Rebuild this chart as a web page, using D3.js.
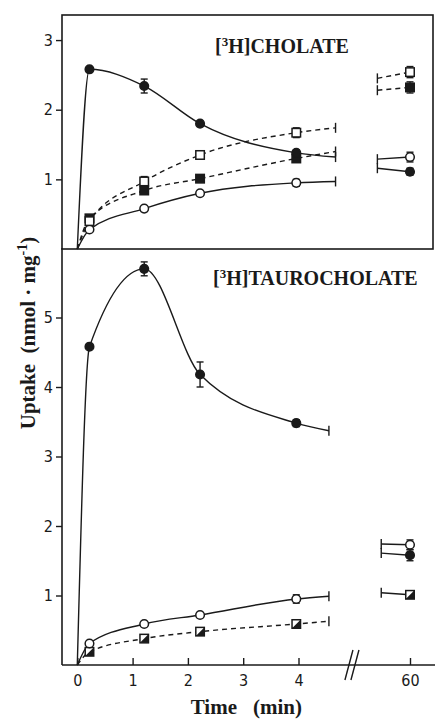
<!DOCTYPE html>
<html><head><meta charset="utf-8">
<script src="https://cdn.jsdelivr.net/npm/d3@7"></script>
<style>html,body{margin:0;padding:0;background:#fff}svg{display:block}</style>
</head><body><svg id="c" width="435" height="719"></svg>
<script>
// ---------- data ----------
const times = [0.22, 1.21, 2.22, 3.96];          // min, sampled points
const endTimeTop = 4.67, endTimeBottom = 4.55;  // where fitted lines stop before the break
const lateTime = 60;                            // final sample (min)
const stubTimeTop = 59.41, stubTimeBottom = 59.48;
const xTickValues = [0, 1, 2, 3, 4];
const xTickLate = [60];
const yTicksTop = [1, 2, 3];
const yTicksBottom = [1, 2, 3, 4, 5];

// [3H]cholate panel
const cholFilledCircle    = [2.58, 2.34, 1.80, 1.38];
const cholFilledCircleErr = [0, 0.10, 0, 0.04];
const cholFilledCircleEnd = 1.32, cholFilledCircleStub = 1.16, cholFilledCircle60 = 1.11, cholFilledCircle60Err = 0.05;

const cholOpenCircle    = [0.28, 0.58, 0.80, 0.95];
const cholOpenCircleErr = [0, 0, 0, 0.05];
const cholOpenCircleEnd = 0.97, cholOpenCircleStub = 1.29, cholOpenCircle60 = 1.32, cholOpenCircle60Err = 0.07;

const cholOpenSquare    = [0.40, 0.97, 1.35, 1.67];
const cholOpenSquareErr = [0, 0.07, 0.05, 0.07];
const cholOpenSquareEnd = 1.74, cholOpenSquareStub = 2.45, cholOpenSquare60 = 2.54, cholOpenSquare60Err = 0.08;

const cholFilledSquare    = [0.44, 0.84, 1.01, 1.30];
const cholFilledSquareErr = [0, 0, 0, 0.04];
const cholFilledSquareEnd = 1.40, cholFilledSquareStub = 2.28, cholFilledSquare60 = 2.32, cholFilledSquare60Err = 0.08;

// [3H]taurocholate panel
const tauroFilledCircle    = [4.58, 5.70, 4.18, 3.48];
const tauroFilledCircleErr = [0, 0.10, 0.18, 0.05];
const tauroFilledCircleEnd = 3.37, tauroFilledCircleStub = 1.61, tauroFilledCircle60 = 1.58, tauroFilledCircle60Err = 0.08;

const tauroOpenCircle    = [0.31, 0.59, 0.72, 0.95];
const tauroOpenCircleErr = [0, 0, 0, 0.06];
const tauroOpenCircleEnd = 0.99, tauroOpenCircleStub = 1.74, tauroOpenCircle60 = 1.73, tauroOpenCircle60Err = 0.07;

const tauroHalfSquare    = [0.19, 0.38, 0.48, 0.59];
const tauroHalfSquareErr = [0, 0, 0, 0.02];
const tauroHalfSquareEnd = 0.63, tauroHalfSquareStub = 1.04, tauroHalfSquare60 = 1.01, tauroHalfSquare60Err = 0.02;

// ---------- drawing ----------
const ink = "#1a1a1a";
const svg = d3.select("#c");
const serif = "'Liberation Serif','Times New Roman',serif";
const narrow = "'Liberation Sans Narrow','DejaVu Sans Condensed','Liberation Sans',sans-serif";

const xMain = d3.scaleLinear().domain([0, 4]).range([77.3, 298.5]);
const xLate = d3.scaleLinear().domain([59, 61]).range([354.7, 465.3]);
const yTop = d3.scaleLinear().domain([0, 3.36]).range([249, 15]);
const yBot = d3.scaleLinear().domain([0, 6]).range([665, 248]);

const leftX = 62, rightX = 433;

// frame
svg.append("rect").attr("x", leftX).attr("y", yTop(3.36)).attr("width", rightX - leftX)
  .attr("height", yTop(0) - yTop(3.36)).attr("fill", "none").attr("stroke", ink).attr("stroke-width", 1.6);
svg.append("line").attr("x1", leftX).attr("x2", leftX).attr("y1", yBot(6)).attr("y2", yBot(0))
  .attr("stroke", ink).attr("stroke-width", 1.6);
svg.append("line").attr("x1", leftX).attr("x2", 435).attr("y1", yBot(0)).attr("y2", yBot(0))
  .attr("stroke", ink).attr("stroke-width", 1.6);

// y axes
function yAxis(scale, ticks) {
  const g = svg.append("g").attr("transform", `translate(${leftX},0)`)
    .call(d3.axisLeft(scale).tickValues(ticks).tickSize(6).tickPadding(3).tickFormat(d3.format("d")));
  g.select(".domain").remove();
  g.selectAll("line").attr("stroke", ink).attr("stroke-width", 1.4);
  g.selectAll("text").attr("fill", ink).style("font-family", narrow).style("font-size", "16px");
}
yAxis(yTop, yTicksTop);
yAxis(yBot, yTicksBottom);

// x axis
function xAxis(scale, ticks) {
  const g = svg.append("g").attr("transform", `translate(0,${yBot(0)})`)
    .call(d3.axisBottom(scale).tickValues(ticks).tickSizeInner(-7).tickSizeOuter(0).tickPadding(10).tickFormat(d3.format("d")));
  g.select(".domain").remove();
  g.selectAll("line").attr("stroke", ink).attr("stroke-width", 1.4);
  g.selectAll("text").attr("fill", ink).style("font-family", narrow).style("font-size", "16px");
}
xAxis(xMain, xTickValues);
xAxis(xLate, xTickLate);

// axis break
[-3, 3].forEach(dx => {
  const bx = xLate(58.95) + dx;
  svg.append("line").attr("x1", bx - 4).attr("x2", bx + 4).attr("y1", yBot(0) + 15).attr("y2", yBot(0) - 15)
    .attr("stroke", ink).attr("stroke-width", 1.4);
});

function makeSeries(values, errs, end, stub, late, lateErr, marker, dashed, stubDashed) {
  return { values, errs, end, stub, late, lateErr, marker, dashed, stubDashed };
}
const topSeries = [
  makeSeries(cholOpenCircle, cholOpenCircleErr, cholOpenCircleEnd, cholOpenCircleStub, cholOpenCircle60, cholOpenCircle60Err, "openCircle", false, false),
  makeSeries(cholFilledSquare, cholFilledSquareErr, cholFilledSquareEnd, cholFilledSquareStub, cholFilledSquare60, cholFilledSquare60Err, "filledSquare", true, true),
  makeSeries(cholOpenSquare, cholOpenSquareErr, cholOpenSquareEnd, cholOpenSquareStub, cholOpenSquare60, cholOpenSquare60Err, "openSquare", true, true),
  makeSeries(cholFilledCircle, cholFilledCircleErr, cholFilledCircleEnd, cholFilledCircleStub, cholFilledCircle60, cholFilledCircle60Err, "filledCircle", false, false)
];
const bottomSeries = [
  makeSeries(tauroHalfSquare, tauroHalfSquareErr, tauroHalfSquareEnd, tauroHalfSquareStub, tauroHalfSquare60, tauroHalfSquare60Err, "halfSquare", true, false),
  makeSeries(tauroOpenCircle, tauroOpenCircleErr, tauroOpenCircleEnd, tauroOpenCircleStub, tauroOpenCircle60, tauroOpenCircle60Err, "openCircle", false, false),
  makeSeries(tauroFilledCircle, tauroFilledCircleErr, tauroFilledCircleEnd, tauroFilledCircleStub, tauroFilledCircle60, tauroFilledCircle60Err, "filledCircle", false, false)
];

function drawMarker(g, type, cx, cy) {
  if (type === "openCircle" || type === "filledCircle") {
    g.append("circle").attr("cx", cx).attr("cy", cy).attr("r", 4.3)
      .attr("fill", type === "filledCircle" ? ink : "#fff").attr("stroke", ink).attr("stroke-width", 1.5);
  } else {
    const s = 8.5;
    g.append("rect").attr("x", cx - s / 2).attr("y", cy - s / 2).attr("width", s).attr("height", s)
      .attr("fill", type === "filledSquare" ? ink : "#fff").attr("stroke", ink).attr("stroke-width", 1.5);
    if (type === "halfSquare") {
      g.append("path").attr("d", `M${cx + s / 2},${cy - s / 2}L${cx + s / 2},${cy + s / 2}L${cx - s / 2},${cy + s / 2}Z`).attr("fill", ink);
    }
  }
}
function errBar(g, cx, y, v, e) {
  if (!e) return;
  g.append("line").attr("x1", cx).attr("x2", cx).attr("y1", y(v - e)).attr("y2", y(v + e)).attr("stroke", ink).attr("stroke-width", 1.4);
  [v - e, v + e].forEach(w => g.append("line").attr("x1", cx - 3.5).attr("x2", cx + 3.5).attr("y1", y(w)).attr("y2", y(w))
    .attr("stroke", ink).attr("stroke-width", 1.4));
}

function drawPanel(series, y, endTime, stubTime) {
  const gl = svg.append("g"), gm = svg.append("g");
  series.forEach(s => {
    const pts = [[0, 0]].concat(times.map((t, i) => [t, s.values[i]])).concat([[endTime, s.end]]);
    const line = d3.line().x(d => xMain(d[0])).y(d => y(d[1])).curve(d3.curveMonotoneX);
    gl.append("path").attr("d", line(pts)).attr("fill", "none").attr("stroke", ink).attr("stroke-width", 1.4)
      .attr("stroke-dasharray", s.dashed ? "5,4" : null);
    gl.append("line").attr("x1", xMain(endTime)).attr("x2", xMain(endTime)).attr("y1", y(s.end) - 5).attr("y2", y(s.end) + 5)
      .attr("stroke", ink).attr("stroke-width", 1.4);
    gl.append("line").attr("x1", xLate(stubTime)).attr("x2", xLate(lateTime)).attr("y1", y(s.stub)).attr("y2", y(s.late))
      .attr("stroke", ink).attr("stroke-width", 1.4).attr("stroke-dasharray", s.stubDashed ? "5,4" : null);
    gl.append("line").attr("x1", xLate(stubTime)).attr("x2", xLate(stubTime)).attr("y1", y(s.stub) - 5).attr("y2", y(s.stub) + 5)
      .attr("stroke", ink).attr("stroke-width", 1.4);
    times.forEach((t, i) => {
      errBar(gm, xMain(t), y, s.values[i], s.errs[i]);
      drawMarker(gm, s.marker, xMain(t), y(s.values[i]));
    });
    errBar(gm, xLate(lateTime), y, s.late, s.lateErr);
    drawMarker(gm, s.marker, xLate(lateTime), y(s.late));
  });
}
drawPanel(topSeries, yTop, endTimeTop, stubTimeTop);
drawPanel(bottomSeries, yBot, endTimeBottom, stubTimeBottom);

// panel titles
function title(x, yb, rest) {
  const t = svg.append("text").attr("x", x).attr("y", yb).attr("fill", ink)
    .style("font-family", serif).style("font-weight", "bold").style("font-size", "20px");
  t.append("tspan").text("[");
  t.append("tspan").attr("dy", -7).style("font-size", "13px").text("3");
  t.append("tspan").attr("dy", 7).text("H]" + rest);
}
title(215, 52.7, "CHOLATE");
title(213, 285, "TAUROCHOLATE");

// axis titles
const yl = svg.append("text").attr("transform", "translate(35,333) rotate(-90)").attr("text-anchor", "middle")
  .attr("fill", ink).style("font-family", serif).style("font-weight", "bold").style("font-size", "21px");
yl.append("tspan").text("Uptake\u00a0\u00a0(nmol\u00a0·\u00a0mg");
yl.append("tspan").attr("dy", -8).style("font-size", "14px").text("-1");
yl.append("tspan").attr("dy", 8).text(")");

svg.append("text").attr("x", 237).attr("y", 714).attr("text-anchor", "end").attr("fill", ink)
  .style("font-family", serif).style("font-weight", "bold").style("font-size", "21px").text("Time");
svg.append("text").attr("x", 253).attr("y", 714).attr("fill", ink)
  .style("font-family", serif).style("font-weight", "bold").style("font-size", "21px").text("(min)");
</script></body></html>
